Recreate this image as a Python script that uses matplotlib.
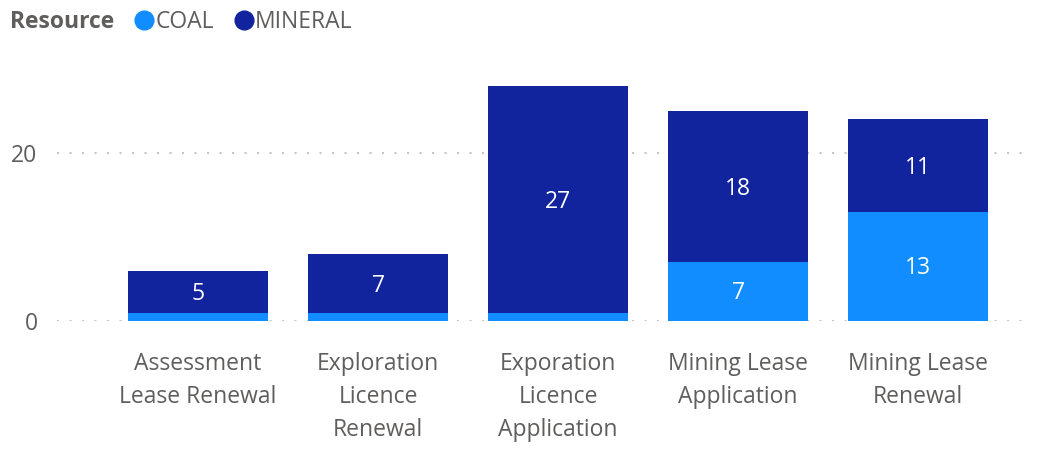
import numpy as np
import matplotlib.pyplot as plt
from matplotlib.lines import Line2D

categories = ['Assessment\nLease Renewal', 'Exploration\nLicence\nRenewal',
              'Exporation\nLicence\nApplication', 'Mining Lease\nApplication',
              'Mining Lease\nRenewal']
coal = [1, 1, 1, 7, 13]
mineral = [5, 7, 27, 18, 11]
coal_labels = [None, None, None, 7, 13]
mineral_labels = [5, 7, 27, 18, 11]

COAL_C = '#118DFF'
MIN_C = '#12239E'
GREY = '#605E5C'

plt.rcParams['font.family'] = ['Open Sans', 'DejaVu Sans']

fig = plt.figure(figsize=(10.47, 4.49), dpi=100)
ax = fig.add_axes([57 / 1047, 1 - 321 / 449, (1030 - 57) / 1047, 252 / 449])

x = np.arange(len(categories))
w = 0.78
ax.bar(x, coal, w, color=COAL_C, zorder=3)
ax.bar(x, mineral, w, bottom=coal, color=MIN_C, zorder=3)

# labels sit a touch below the segment centre, as in the original
for i in range(len(x)):
    if coal_labels[i] is not None:
        ax.text(x[i], coal[i] / 2 - 0.2, str(coal_labels[i]), ha='center',
                va='center', color='white', fontsize=16.5, zorder=4)
    ax.text(x[i], coal[i] + mineral[i] / 2 - 0.3, str(mineral_labels[i]),
            ha='center', va='center', color='white', fontsize=16.5, zorder=4)

ax.set_xlim((57 - 198) / 180, (1030 - 198) / 180)
ax.set_ylim(0, 30)
ax.set_yticks([0, 20])
ax.set_yticklabels(['0', '20'], color=GREY, fontsize=16.5)
ax.set_xticks(x)
ax.set_xticklabels(categories, color=GREY, fontsize=16.5, linespacing=1.52)
ax.tick_params(axis='y', length=0, pad=14)
ax.tick_params(axis='x', length=0, pad=22)
ax.grid(axis='y', color='#C8C6C4', linestyle=(0, (1, 5)), linewidth=1.5, zorder=0)
for s in ax.spines.values():
    s.set_visible(False)

fig.text(10 / 1047, 1 - 22 / 449, 'Resource', fontsize=16.5, fontweight='bold',
         color=GREY, va='center', ha='left')
handles = [Line2D([], [], marker='o', linestyle='', markersize=13.5, color=COAL_C),
           Line2D([], [], marker='o', linestyle='', markersize=13.5, color=MIN_C)]
fig.legend(handles, ['COAL', 'MINERAL'], loc='center left',
           bbox_to_anchor=(130 / 1047, 1 - 22 / 449), ncol=2, frameon=False,
           fontsize=16.5, labelcolor=GREY, handletextpad=-0.1, columnspacing=0.7,
           handlelength=1.2, borderpad=0, borderaxespad=0)

fig.savefig('out.png', dpi=100)
